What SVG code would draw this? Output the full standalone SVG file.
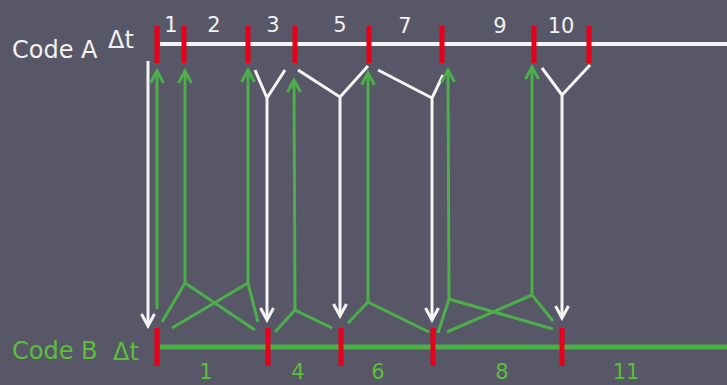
<svg xmlns="http://www.w3.org/2000/svg" width="727" height="385" viewBox="0 0 727 385">
  <defs>
    <style>
      .bg { fill: #575767; }
      .txtA { font-family: "DejaVu Sans", Verdana, sans-serif; fill: #f2f2f2; }
      .txtB { font-family: "DejaVu Sans", Verdana, sans-serif; fill: #5cbf3a; }
      .num { font-size: 21px; text-anchor: middle; }
      .name { font-size: 24px; }
      .tick { stroke: #e8001a; stroke-width: 5; }
      .wline { fill: none; stroke: #f4f4f4; stroke-width: 3; stroke-linejoin: miter; }
      .gline { fill: none; stroke: #4caf4a; stroke-width: 3; stroke-linejoin: miter; }
      .wa { marker-end: url(#arrW); }
      .ga { marker-end: url(#arrG); }
    </style>
    <marker id="arrW" viewBox="-14 -9 17 18" refX="0" refY="0" markerUnits="userSpaceOnUse" markerWidth="17" markerHeight="18" orient="auto">
      <path d="M-12,-6.5 L0,0 L-12,6.5" fill="none" stroke="#f4f4f4" stroke-width="3"/>
    </marker>
    <marker id="arrG" viewBox="-14 -9 17 18" refX="0" refY="0" markerUnits="userSpaceOnUse" markerWidth="17" markerHeight="18" orient="auto">
      <path d="M-12,-6.5 L0,0 L-12,6.5" fill="none" stroke="#4caf4a" stroke-width="3"/>
    </marker>
  </defs>
  <rect class="bg" x="0" y="0" width="727" height="385"/>

  <g id="code-a">
    <line x1="160" y1="44" x2="727" y2="44" stroke="#f4f4f4" stroke-width="4"/>
    <text class="txtA name" x="12" y="58">Code A</text>
    <text class="txtA name" x="108" y="48">Δt</text>
    <line class="tick" x1="157" y1="26" x2="157" y2="63"/>
    <line class="tick" x1="184" y1="26" x2="184" y2="63"/>
    <line class="tick" x1="248" y1="26" x2="248" y2="63"/>
    <line class="tick" x1="295" y1="26" x2="295" y2="63"/>
    <line class="tick" x1="369" y1="26" x2="369" y2="63"/>
    <line class="tick" x1="442" y1="26" x2="442" y2="63" stroke-width="6"/>
    <line class="tick" x1="534" y1="26" x2="534" y2="63"/>
    <line class="tick" x1="589" y1="26" x2="589" y2="63"/>
    <text class="txtA num" x="171" y="32">1</text>
    <text class="txtA num" x="214" y="32">2</text>
    <text class="txtA num" x="273" y="32">3</text>
    <text class="txtA num" x="340" y="32">5</text>
    <text class="txtA num" x="405" y="33">7</text>
    <text class="txtA num" x="500" y="33">9</text>
    <text class="txtA num" x="561" y="33">10</text>
  </g>

  <g id="code-b">
    <line x1="160" y1="347" x2="727" y2="347" stroke="#4caf4a" stroke-width="5"/>
    <text class="txtB name" x="12" y="359">Code B</text>
    <text class="txtB name" x="113" y="360">Δt</text>
    <line class="tick" x1="157" y1="328" x2="157" y2="366"/>
    <line class="tick" x1="268" y1="328" x2="268" y2="366"/>
    <line class="tick" x1="341" y1="328" x2="341" y2="366" stroke-width="6"/>
    <line class="tick" x1="433" y1="328" x2="433" y2="366"/>
    <line class="tick" x1="562" y1="328" x2="562" y2="366"/>
    <text class="txtB num" x="206" y="379">1</text>
    <text class="txtB num" x="298" y="379">4</text>
    <text class="txtB num" x="378" y="379">6</text>
    <text class="txtB num" x="502" y="379">8</text>
    <text class="txtB num" x="626" y="379">11</text>
  </g>

  <g id="connectors">
    <!-- white A to B -->
    <path class="wline wa" d="M148,61 L148,326"/>
    <path class="wline wa" d="M255,70 L267,98 M285,70 L267,98 L267,320"/>
    <path class="wline wa" d="M298,70 L340,97 M368,66 L340,97 L340,316"/>
    <path class="wline wa" d="M378,70 L432,98 M443,75 L432,98 L432,320"/>
    <path class="wline wa" d="M542,68 L562,95 M590,65 L562,95 L562,318"/>
    <!-- green B to A -->
    <path class="gline ga" d="M157,309 L157,71"/>
    <path class="gline ga" d="M162,322 L185,283 M255,330 L185,283 L185,71"/>
    <path class="gline ga" d="M172,328 L248,283 M258,322 L248,283 L248,70"/>
    <path class="gline ga" d="M275,332 L295,310 M332,328 L295,310 L294,80"/>
    <path class="gline ga" d="M348,323 L368,302 M429,332 L368,302 L368,73"/>
    <path class="gline ga" d="M438,333 L449,299 M553,329 L449,299 L448,70"/>
    <path class="gline ga" d="M447,332 L532,295 M553,321 L532,295 L532,67"/>
  </g>
</svg>
